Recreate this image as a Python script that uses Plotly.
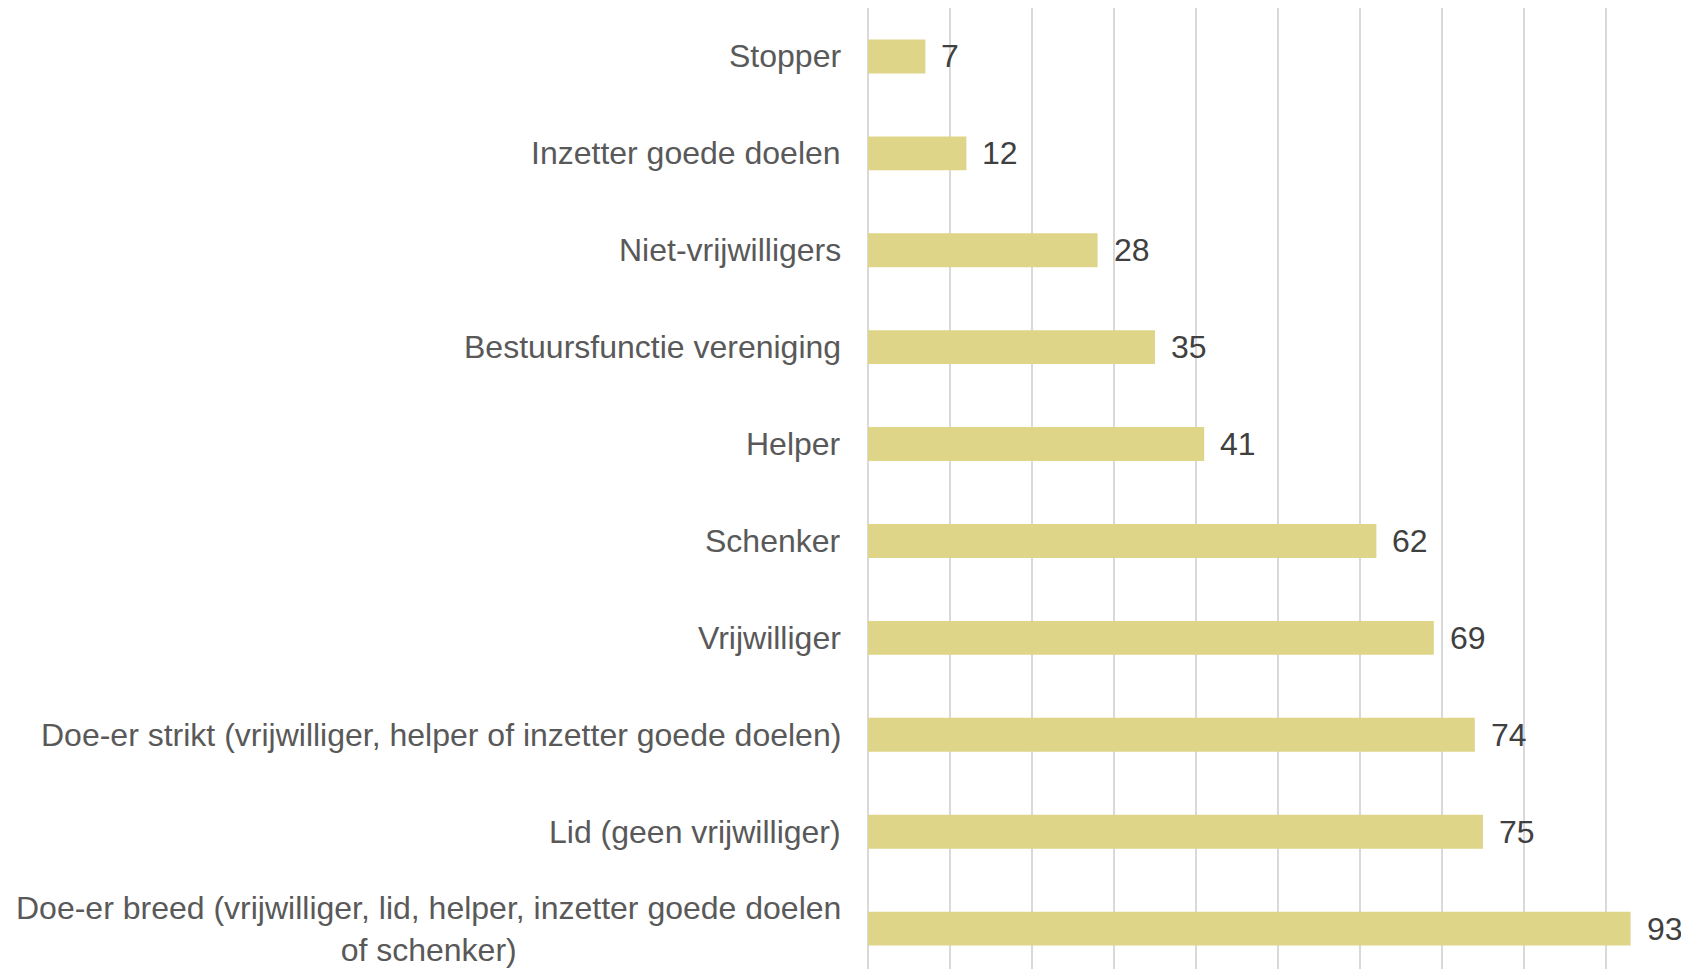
import plotly.graph_objects as go

categories = [
    "Stopper",
    "Inzetter goede doelen",
    "Niet-vrijwilligers",
    "Bestuursfunctie vereniging",
    "Helper",
    "Schenker",
    "Vrijwilliger",
    "Doe-er strikt (vrijwilliger, helper of inzetter goede doelen)",
    "Lid (geen vrijwilliger)",
    "Doe-er breed (vrijwilliger, lid, helper, inzetter goede doelen<br>of schenker)",
]
values = [7, 12, 28, 35, 41, 62, 69, 74, 75, 93]
x_ticks = [0, 10, 20, 30, 40, 50, 60, 70, 80, 90, 100]

FONT = "Liberation Sans, Arial, sans-serif"
BAR_COLOR = "#DED589"
GRID = "#D9D9D9"

fig = go.Figure()
fig.add_trace(go.Bar(
    x=values,
    y=categories,
    orientation="h",
    width=0.35,
    marker=dict(color=BAR_COLOR, line=dict(width=0)),
    hoverinfo="x+y",
))

annotations = []
for cat, val in zip(categories, values):
    annotations.append(dict(
        x=val, y=cat, xref="x", yref="y",
        text=str(val), showarrow=False,
        xanchor="left", yanchor="middle", xshift=14,
        font=dict(family=FONT, size=32, color="#404040"),
    ))
    annotations.append(dict(
        x=0, y=cat, xref="paper", yref="y",
        text=cat, showarrow=False,
        xanchor="right", yanchor="middle", align="center", xshift=-25,
        font=dict(family=FONT, size=32, color="#595959"),
    ))

fig.update_layout(
    width=1681, height=961,
    margin=dict(l=860, r=1, t=0, b=0),
    paper_bgcolor="white", plot_bgcolor="white",
    showlegend=False,
    annotations=annotations,
    font=dict(family=FONT),
    xaxis=dict(
        range=[0, 100],
        tickvals=x_ticks,
        showticklabels=False,
        showgrid=True, gridcolor=GRID, gridwidth=2,
        zeroline=True, zerolinecolor=GRID, zerolinewidth=2,
        showline=False,
    ),
    yaxis=dict(
        type="category",
        categoryorder="array", categoryarray=categories,
        range=[9.417, -0.5],
        showticklabels=False,
        showgrid=False, zeroline=False, showline=False,
    ),
)

fig.write_html("out.html")
